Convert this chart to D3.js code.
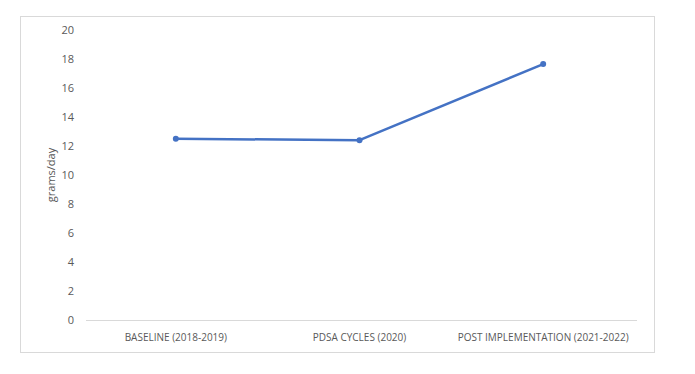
<!DOCTYPE html>
<html lang="en">
<head>
    <meta charset="UTF-8">
    <title>grams/day</title>
    <style>
        body {
            margin: 0;
            background-color: #ffffff;
            font-family: "Open Sans", Arial, sans-serif;
        }
        #chart text {
            fill: #595959;
        }
    </style>
</head>
<body>
    <svg id="chart"></svg>

    <script src="https://d3js.org/d3.v7.min.js"></script>
    <script>
        // Data
        const categories = ['BASELINE (2018-2019)', 'PDSA CYCLES (2020)', 'POST IMPLEMENTATION (2021-2022)'];
        const values = [12.5, 12.4, 17.65];
        const yTicks = [0, 2, 4, 6, 8, 10, 12, 14, 16, 18, 20];
        const yLabel = 'grams/day';

        const width = 695;
        const height = 374;
        const margin = { top: 30, right: 60, bottom: 54, left: 84 };

        const svg = d3.select('#chart')
            .attr('width', width)
            .attr('height', height);

        // outer chart border
        svg.append('rect')
            .attr('x', 20.5)
            .attr('y', 16.5)
            .attr('width', 634)
            .attr('height', 336)
            .attr('fill', 'none')
            .attr('stroke', '#d9d9d9');

        const x = d3.scaleBand()
            .domain(categories)
            .range([margin.left, width - margin.right]);

        const y = d3.scaleLinear()
            .domain([0, 20])
            .range([height - margin.bottom, margin.top]);

        // baseline axis line
        svg.append('line')
            .attr('x1', margin.left + 2)
            .attr('x2', width - margin.right + 2)
            .attr('y1', y(0) + 0.5)
            .attr('y2', y(0) + 0.5)
            .attr('stroke', '#d9d9d9');

        // y tick labels
        svg.selectAll('.y-tick')
            .data(yTicks)
            .enter()
            .append('text')
            .attr('class', 'y-tick')
            .attr('x', 74)
            .attr('y', d => y(d))
            .attr('dy', '0.35em')
            .attr('text-anchor', 'end')
            .style('font-size', '11px')
            .text(d => d);

        // category labels
        svg.selectAll('.x-label')
            .data(categories)
            .enter()
            .append('text')
            .attr('class', 'x-label')
            .attr('x', d => x(d) + x.bandwidth() / 2)
            .attr('y', y(0) + 17)
            .attr('dy', '0.35em')
            .attr('text-anchor', 'middle')
            .style('font-size', '10px')
            .text(d => d);

        // y axis title
        svg.append('text')
            .attr('transform', `translate(55, ${(y(0) + y(20)) / 2}) rotate(-90)`)
            .attr('text-anchor', 'middle')
            .style('font-size', '11px')
            .text(yLabel);

        const points = categories.map((c, i) => ({ c, v: values[i] }));

        const line = d3.line()
            .x(d => x(d.c) + x.bandwidth() / 2)
            .y(d => y(d.v));

        svg.append('path')
            .datum(points)
            .attr('d', line)
            .attr('fill', 'none')
            .attr('stroke', '#4472c4')
            .attr('stroke-width', 2.5)
            .attr('stroke-linejoin', 'round');

        svg.selectAll('.dot')
            .data(points)
            .enter()
            .append('circle')
            .attr('class', 'dot')
            .attr('cx', d => x(d.c) + x.bandwidth() / 2)
            .attr('cy', d => y(d.v))
            .attr('r', 3)
            .attr('fill', '#4472c4');
    </script>
</body>
</html>
